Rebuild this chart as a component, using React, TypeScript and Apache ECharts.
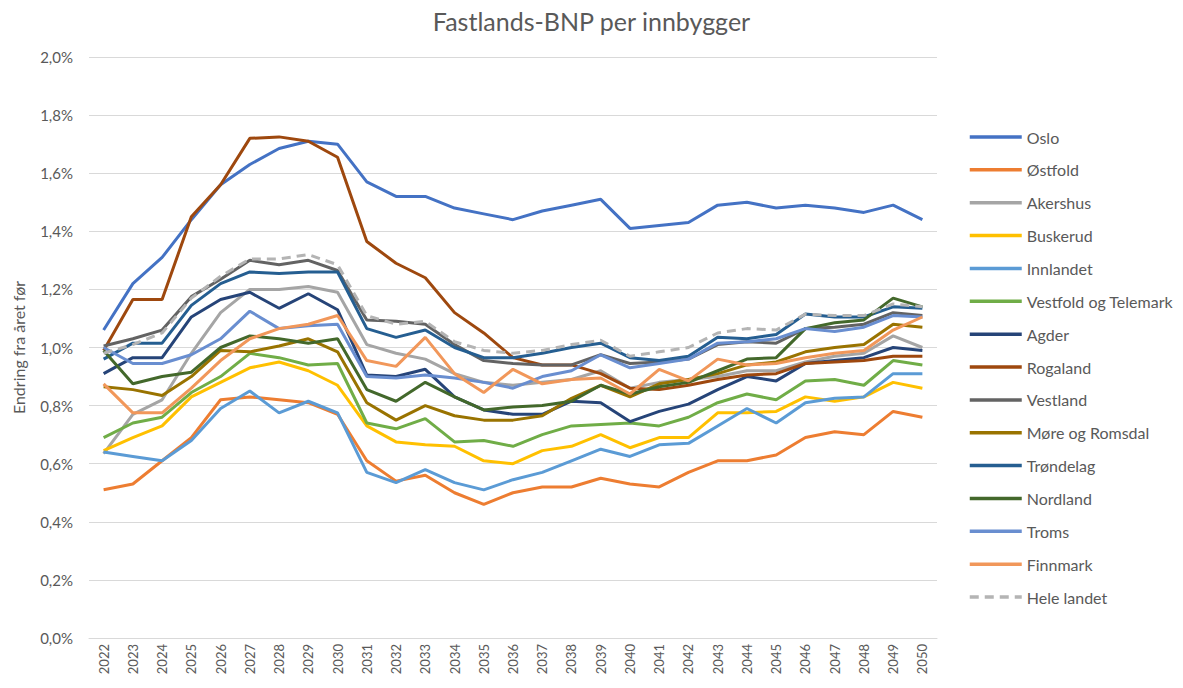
import React, { useEffect, useRef } from "react";
import * as echarts from "echarts";

const years = [
  "2022","2023","2024","2025","2026","2027","2028","2029","2030","2031",
  "2032","2033","2034","2035","2036","2037","2038","2039","2040","2041",
  "2042","2043","2044","2045","2046","2047","2048","2049","2050",
];

const oslo = [1.06, 1.22, 1.31, 1.44, 1.56, 1.63, 1.685, 1.71, 1.70, 1.57, 1.52, 1.52, 1.48, 1.46, 1.44, 1.47, 1.49, 1.51, 1.41, 1.42, 1.43, 1.49, 1.50, 1.48, 1.49, 1.48, 1.465, 1.49, 1.44];
const ostfold = [0.51, 0.53, 0.61, 0.69, 0.82, 0.83, 0.82, 0.81, 0.77, 0.61, 0.54, 0.56, 0.50, 0.46, 0.50, 0.52, 0.52, 0.55, 0.53, 0.52, 0.57, 0.61, 0.61, 0.63, 0.69, 0.71, 0.70, 0.78, 0.76];
const akershus = [0.635, 0.77, 0.82, 0.98, 1.12, 1.20, 1.20, 1.21, 1.19, 1.01, 0.98, 0.96, 0.91, 0.88, 0.87, 0.88, 0.89, 0.92, 0.86, 0.88, 0.89, 0.90, 0.92, 0.92, 0.95, 0.97, 0.98, 1.04, 1.00];
const buskerud = [0.645, 0.69, 0.73, 0.83, 0.88, 0.93, 0.95, 0.92, 0.87, 0.73, 0.675, 0.665, 0.66, 0.61, 0.60, 0.645, 0.66, 0.70, 0.655, 0.69, 0.69, 0.775, 0.775, 0.78, 0.83, 0.815, 0.83, 0.88, 0.86];
const innlandet = [0.64, 0.625, 0.61, 0.68, 0.79, 0.85, 0.775, 0.815, 0.775, 0.57, 0.535, 0.58, 0.535, 0.51, 0.545, 0.57, 0.61, 0.65, 0.625, 0.665, 0.67, 0.73, 0.79, 0.74, 0.81, 0.825, 0.83, 0.91, 0.91];
const vestfold = [0.69, 0.74, 0.76, 0.845, 0.90, 0.98, 0.965, 0.94, 0.945, 0.74, 0.72, 0.755, 0.675, 0.68, 0.66, 0.70, 0.73, 0.735, 0.74, 0.73, 0.76, 0.81, 0.84, 0.82, 0.885, 0.89, 0.87, 0.955, 0.94];
const agder = [0.91, 0.965, 0.965, 1.105, 1.165, 1.19, 1.135, 1.185, 1.13, 0.905, 0.90, 0.925, 0.83, 0.785, 0.77, 0.77, 0.815, 0.81, 0.745, 0.78, 0.805, 0.855, 0.90, 0.885, 0.945, 0.955, 0.965, 1.0, 0.99];
const rogaland = [0.99, 1.165, 1.165, 1.45, 1.56, 1.72, 1.725, 1.71, 1.655, 1.365, 1.29, 1.24, 1.12, 1.05, 0.965, 0.94, 0.94, 0.91, 0.86, 0.855, 0.87, 0.89, 0.905, 0.91, 0.945, 0.95, 0.955, 0.97, 0.97];
const vestland = [1.005, 1.03, 1.06, 1.175, 1.235, 1.30, 1.285, 1.30, 1.265, 1.095, 1.09, 1.08, 1.01, 0.955, 0.945, 0.94, 0.94, 0.975, 0.945, 0.95, 0.96, 1.01, 1.02, 1.015, 1.065, 1.07, 1.08, 1.12, 1.11];
const more = [0.865, 0.855, 0.835, 0.90, 0.99, 0.985, 1.005, 1.03, 0.985, 0.81, 0.75, 0.80, 0.765, 0.75, 0.75, 0.765, 0.825, 0.87, 0.83, 0.875, 0.89, 0.91, 0.94, 0.95, 0.985, 1.0, 1.01, 1.08, 1.07];
const trondelag = [0.96, 1.015, 1.015, 1.145, 1.22, 1.26, 1.255, 1.26, 1.26, 1.065, 1.035, 1.06, 1.0, 0.965, 0.965, 0.98, 1.0, 1.015, 0.965, 0.955, 0.97, 1.035, 1.03, 1.045, 1.115, 1.105, 1.105, 1.14, 1.135];
const nordland = [0.99, 0.875, 0.90, 0.915, 1.0, 1.04, 1.03, 1.015, 1.03, 0.855, 0.815, 0.88, 0.83, 0.785, 0.795, 0.80, 0.815, 0.87, 0.84, 0.865, 0.88, 0.92, 0.96, 0.965, 1.065, 1.085, 1.095, 1.17, 1.14];
const troms = [1.0, 0.945, 0.945, 0.975, 1.03, 1.125, 1.065, 1.075, 1.08, 0.90, 0.895, 0.905, 0.895, 0.88, 0.86, 0.90, 0.92, 0.975, 0.93, 0.945, 0.96, 1.015, 1.02, 1.03, 1.065, 1.055, 1.07, 1.11, 1.105];
const finnmark = [0.875, 0.775, 0.775, 0.86, 0.955, 1.03, 1.065, 1.08, 1.11, 0.955, 0.935, 1.035, 0.91, 0.845, 0.925, 0.875, 0.89, 0.895, 0.84, 0.925, 0.885, 0.96, 0.94, 0.945, 0.965, 0.98, 0.99, 1.06, 1.105];
const heleLandet = [0.98, 1.01, 1.05, 1.17, 1.245, 1.305, 1.305, 1.32, 1.285, 1.11, 1.08, 1.09, 1.02, 0.99, 0.98, 0.99, 1.01, 1.025, 0.97, 0.985, 1.0, 1.05, 1.065, 1.06, 1.115, 1.11, 1.11, 1.15, 1.14];

const seriesNames = [
  "Oslo", "Østfold", "Akershus", "Buskerud", "Innlandet", "Vestfold og Telemark",
  "Agder", "Rogaland", "Vestland", "Møre og Romsdal", "Trøndelag", "Nordland",
  "Troms", "Finnmark", "Hele landet",
];
const seriesData = [
  oslo, ostfold, akershus, buskerud, innlandet, vestfold, agder, rogaland,
  vestland, more, trondelag, nordland, troms, finnmark, heleLandet,
];
const seriesColors = [
  "#4472C4", "#ED7D31", "#A5A5A5", "#FFC000", "#5B9BD5", "#70AD47", "#264478",
  "#9E480E", "#636363", "#997300", "#255E91", "#43682B", "#698ED0", "#F1975A", "#B4B4B4",
];

const FONT = "Lato, 'Open Sans', sans-serif";

export default function App() {
  const ref = useRef<HTMLDivElement>(null);
  useEffect(() => {
    if (!ref.current) return;
    const chart = echarts.init(ref.current, undefined, { renderer: "svg" });
    chart.setOption({
      animation: false,
      backgroundColor: "#ffffff",
      textStyle: { fontFamily: FONT },
      title: {
        text: "Fastlands-BNP per innbygger",
        left: "center",
        top: 3,
        textStyle: { fontSize: 25, fontWeight: "normal", color: "#595959", fontFamily: FONT },
      },
      legend: {
        orient: "vertical",
        left: 963,
        top: 124,
        itemWidth: 52,
        itemHeight: 20,
        itemGap: 16.86,
        itemStyle: { opacity: 0 },
        lineStyle: { width: 3.5 },
        textStyle: { fontSize: 16, color: "#595959", fontFamily: FONT },
        data: seriesNames,
      },
      grid: { left: 89, right: 246, top: 57, bottom: 50, containLabel: false },
      xAxis: {
        type: "category",
        data: years,
        boundaryGap: true,
        axisLine: { show: true, lineStyle: { color: "#D9D9D9", width: 1 } },
        axisTick: { show: false },
        axisLabel: { rotate: 90, fontSize: 13, color: "#595959", margin: 6, interval: 0, fontFamily: FONT },
      },
      yAxis: {
        type: "value",
        min: 0,
        max: 2,
        interval: 0.2,
        name: "Endring fra året før",
        nameLocation: "middle",
        nameGap: 63,
        nameRotate: 90,
        nameTextStyle: { fontSize: 16, color: "#595959", fontFamily: FONT },
        axisLine: { show: false },
        axisTick: { show: false },
        splitLine: { lineStyle: { color: "#D9D9D9", width: 1 } },
        axisLabel: {
          fontSize: 15,
          color: "#595959",
          margin: 16,
          fontFamily: FONT,
          formatter: (v: number) => v.toFixed(1).replace(".", ",") + "%",
        },
      },
      series: seriesNames.map((name, i) => ({
        name,
        type: "line",
        data: seriesData[i],
        symbol: "none",
        showSymbol: false,
        smooth: false,
        color: seriesColors[i],
        lineStyle: {
          width: 3,
          color: seriesColors[i],
          type: name === "Hele landet" ? [9, 6] : "solid",
        },
        itemStyle: { color: seriesColors[i] },
      })),
    });
    return () => chart.dispose();
  }, []);
  return (
    <div
      ref={ref}
      style={{ position: "fixed", left: 0, top: 0, width: 1183, height: 688 }}
    />
  );
}
